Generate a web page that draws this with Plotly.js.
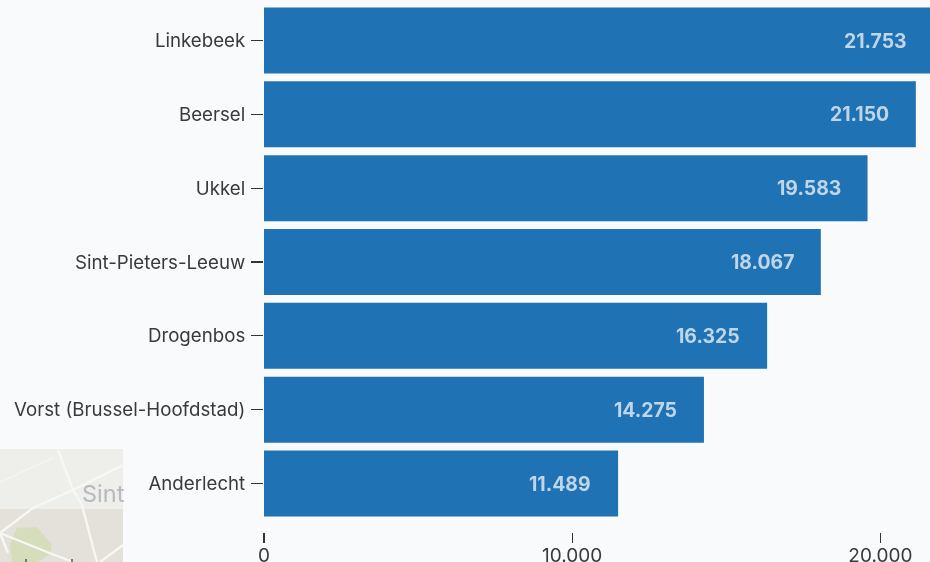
<!DOCTYPE html>
<html><head><meta charset="utf-8">
<script src="https://cdn.plot.ly/plotly-3.0.1.min.js"></script>
<style>html,body{margin:0;padding:0;background:#f9fafc;overflow:hidden;width:930px;height:562px}#c{width:960px;height:562px;filter:blur(0.45px)}</style>
</head><body><div id="c"></div>
<script>
const categories=["Anderlecht","Vorst (Brussel-Hoofdstad)","Drogenbos","Sint-Pieters-Leeuw","Ukkel","Beersel","Linkebeek"];
const values=[11489,14275,16325,18067,19583,21150,21753];
const valueLabels=["11.489","14.275","16.325","18.067","19.583","21.150","21.753"];
const xTicks=[0,10000,20000];
const xTickLabels=["0","10.000","20.000"];
const W=960,H=562,mL=264,mB=30;
const mapSvg=`<svg xmlns="http://www.w3.org/2000/svg" width="123" height="113" viewBox="0 0 123 113">
<defs><filter id="b"><feGaussianBlur stdDeviation="0.7"/></filter></defs>
<rect width="123" height="113" fill="#eeeeeb"/>
<g filter="url(#b)">
<rect y="60" width="123" height="53" fill="#e3e1d9"/>
<path d="M17 79 L37 78 L52 96 L50 105 L38 113 L12 113 L10 95 Z" fill="#d6ddbb"/>
<g fill="none" stroke="#f7f7f4" stroke-width="2.4">
<path d="M58 1 L73 41 L82 56 L95 106 L97 113"/>
<path d="M0 33 L53 9" stroke-width="1.6" stroke="#f4f4f1"/>
<path d="M0 84 L33 59 L73 41 L123 16"/>
<path d="M0 84 L47 103 L73 113"/>
<path d="M0 84 L8 104"/>
<path d="M100 113 L123 96"/>
</g>
<g stroke="#555" stroke-width="1.5"><path d="M26 110 L26 113"/><path d="M72 110 L72 113"/></g>
</g></svg>`;
Plotly.newPlot('c',[{
  type:'bar',orientation:'h',x:values,y:categories,width:0.894,
  marker:{color:'#1f72b4',line:{width:0}},hoverinfo:'skip'
}],{
  width:W,height:H,
  margin:{l:mL,r:0,t:0,b:mB,pad:0},
  paper_bgcolor:'#f9fafc',plot_bgcolor:'#f9fafc',
  showlegend:false,
  font:{family:'Inter, Roboto, sans-serif',size:18.7,color:'#3a3a3a'},
  xaxis:{range:[0,22583],tickmode:'array',tickvals:xTicks,ticktext:xTickLabels,
    ticks:'outside',ticklen:10,tickwidth:1.3,tickcolor:'#333',showgrid:false,zeroline:false,showline:false,
    ticklabelstandoff:-4,tickfont:{size:19,color:'#3a3a3a'},fixedrange:true},
  yaxis:{type:'category',categoryorder:'array',categoryarray:categories,range:[-0.657,6.549],
    ticks:'outside',ticklen:12,tickwidth:1.3,tickcolor:'#333',showgrid:false,zeroline:false,showline:false,
    ticklabelstandoff:2,tickfont:{size:18.7,color:'#3a3a3a'},fixedrange:true},
  annotations:categories.map((c,i)=>({x:values[i],y:c,xref:'x',yref:'y',text:valueLabels[i],
    showarrow:false,xanchor:'right',yanchor:'middle',xshift:-25,
    font:{family:'Inter, Roboto, sans-serif',size:19.4,color:'#bfd5e8',weight:700}})).concat([
    {xref:'paper',yref:'paper',x:(80-mL)/(W-mL),y:(H-mB-493)/(H-mB),xanchor:'left',yanchor:'middle',
     text:'Sint',showarrow:false,font:{family:'Inter, Roboto, sans-serif',size:23.5,color:'#b8b8c2'}}
  ]),
  images:[{source:'data:image/svg+xml;utf8,'+encodeURIComponent(mapSvg),xref:'paper',yref:'paper',
    x:(0-mL)/(W-mL),y:(H-mB-449)/(H-mB),sizex:123/(W-mL),sizey:113/(H-mB),
    xanchor:'left',yanchor:'top',sizing:'stretch',layer:'below'}]
},{displayModeBar:false,staticPlot:true});
</script></body></html>
